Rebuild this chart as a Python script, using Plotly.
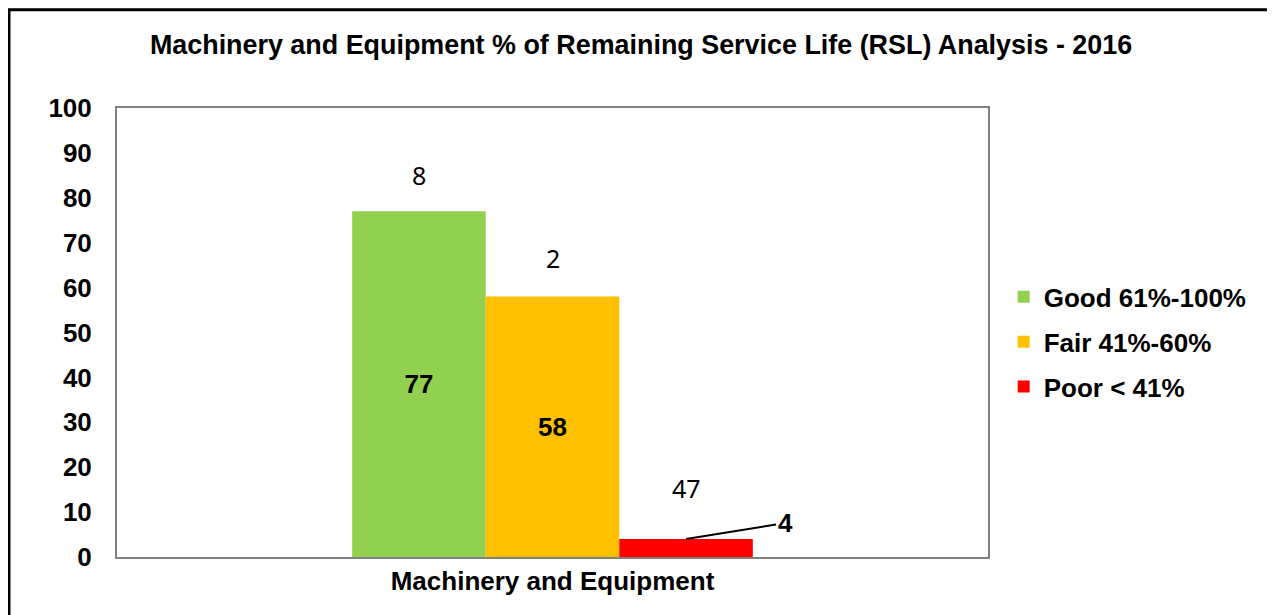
import plotly.graph_objects as go

# chart data
category = ["Machinery and Equipment"]
series_names = ["Good 61%-100%", "Fair 41%-60%", "Poor < 41%"]
series_values = [77, 58, 4]
series_colours = ["#92D050", "#FFC000", "#FF0000"]
count_labels = ["8", "2", "47"]
y_ticks = [0, 10, 20, 30, 40, 50, 60, 70, 80, 90, 100]

fam = "Liberation Sans"
bargap = 0.54
group_w = 1 - bargap
bar_w = group_w / len(series_names)

fig = go.Figure()
for name, val, col in zip(series_names, series_values, series_colours):
    fig.add_trace(go.Bar(
        x=category, y=[val], name=name, legendgroup=name,
        marker_color=col, marker_line_width=0,
        text=[str(val)] if val > 10 else None,
        textposition="inside", insidetextanchor="middle",
        textfont=dict(family=fam, size=26, color="black", weight="bold"),
        textangle=0,
    ))

# count labels above each bar
count_shift = [36, 39, 51]
for i, (lab, val) in enumerate(zip(count_labels, series_values)):
    xpos = -group_w / 2 + bar_w * (i + 0.5)
    fig.add_annotation(x=xpos, y=val, text=lab, showarrow=False, yshift=count_shift[i],
                       font=dict(family="Noto Sans", size=25, color="black"))

# small bar: label outside with leader line
xpos = -group_w / 2 + bar_w * 2.5
fig.add_annotation(x=xpos, y=series_values[2], text="4", showarrow=True,
                   arrowhead=0, arrowwidth=2, arrowcolor="black", ax=99, ay=-16,
                   font=dict(family=fam, size=26, color="black", weight="bold"))

# outer chart border
fig.add_shape(type="rect", xref="paper", yref="paper",
              x0=-0.124, x1=1.4, y0=-0.3, y1=1.219,
              line=dict(color="black", width=3), layer="below")

fig.update_layout(
    width=1275, height=615,
    margin=dict(l=109, r=295, t=100, b=66),
    paper_bgcolor="white", plot_bgcolor="white",
    barmode="group", bargap=bargap, bargroupgap=0,
    title=dict(text="Machinery and Equipment % of Remaining Service Life (RSL) Analysis - 2016",
               x=0.4965, xref="container", y=0.94, yanchor="middle",
               font=dict(family=fam, size=26.9, color="black", weight="bold")),
    showlegend=True,
    legend=dict(x=1.018, y=0.479, yanchor="middle", xanchor="left",
                font=dict(family=fam, size=26, color="black", weight="bold"),
                tracegroupgap=8, itemwidth=30, bgcolor="rgba(0,0,0,0)"),
    font=dict(family=fam, color="black"),
)
fig.update_xaxes(showline=True, mirror=True, linecolor="#808080", linewidth=2,
                 tickfont=dict(family=fam, size=26, color="black", weight="bold"),
                 ticks="", showgrid=False)
fig.update_yaxes(range=[0, 100], tickvals=y_ticks, showline=True, mirror=True,
                 linecolor="#808080", linewidth=2, showgrid=False, zeroline=False,
                 tickfont=dict(family=fam, size=26, color="black", weight="bold"),
                 ticks="outside", ticklen=18, tickcolor="white")

fig.write_html("out.html")
